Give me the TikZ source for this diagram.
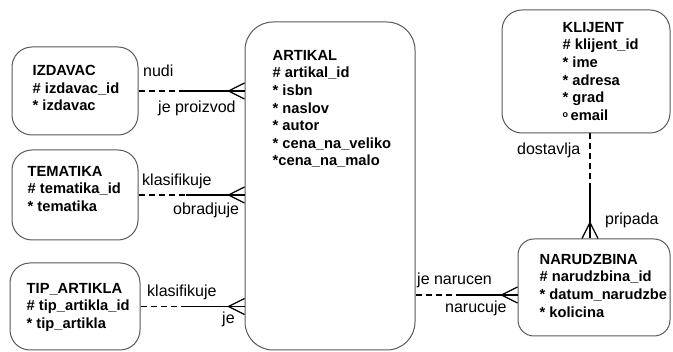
\documentclass[tikz,border=0pt]{standalone}
\usepackage{fontspec}
\setmainfont{Liberation Sans}
\usetikzlibrary{calc,positioning}

\begin{document}
\begin{tikzpicture}[x=1pt,y=-1pt,
  ent/.style={draw=black!65,line width=1pt,rounded corners=20pt,inner sep=0pt},
  attr/.style={align=left,font=\fontsize{14.7}{17.6}\selectfont\bfseries,inner sep=0pt},
  lbl/.style={font=\fontsize{16}{18}\selectfont,inner sep=0pt,anchor=base west},
  opt/.style={line width=1.3pt,dash pattern=on 6pt off 4pt},
  must/.style={line width=1.3pt},
  crow/.pic={\draw[line width=1.3pt] (0,-8) -- (-16,0) -- (0,8);}]
\useasboundingbox (0,0) rectangle (673,352);
% entities
\node[ent,minimum width=126pt,minimum height=88pt] (izdavac) at (75,91) {};
\node[attr,below right=18.5pt and 21pt of izdavac.north west] (izdavac-txt) {IZDAVAC\\\# izdavac\_id\\* izdavac};
\node[ent,minimum width=126pt,minimum height=90pt] (tematika) at (75,195) {};
\node[attr,below right=16.5pt and 16pt of tematika.north west] (tematika-txt) {TEMATIKA\\\# tematika\_id\\* tematika};
\node[ent,minimum width=130pt,minimum height=87pt] (tipartikla) at (75,306.5) {};
\node[attr,below right=20.5pt and 17pt of tipartikla.north west] (tipartikla-txt) {TIP\_ARTIKLA\\\# tip\_artikla\_id\\* tip\_artikla};
\node[ent,rounded corners=28pt,minimum width=170pt,minimum height=328pt] (artikal) at (330,186) {};
\node[attr,below right=28.5pt and 28pt of artikal.north west] (artikal-txt) {ARTIKAL\\\# artikal\_id\\* isbn\\* naslov\\* autor\\* cena\_na\_veliko\\*cena\_na\_malo};
\node[ent,minimum width=168pt,minimum height=123pt] (klijent) at (586,71.5) {};
\node[attr,below right=12.5pt and 61pt of klijent.north west] (klijent-txt) {KLIJENT\\\# klijent\_id\\* ime\\* adresa\\* grad\\{\fontsize{9}{9}\selectfont\raisebox{3pt}{o}}\,email};
\node[ent,rounded corners=16pt,minimum width=152pt,minimum height=97pt] (narudzbina) at (594,287.5) {};
\node[attr,below right=15.5pt and 22pt of narudzbina.north west] (narudzbina-txt) {NARUDZBINA\\\# narudzbina\_id\\* datum\_narudzbe\\* kolicina};
% relationships
\draw[opt] (izdavac.east) -- ++(44,0) coordinate (izdavac-m);
\draw[must] (izdavac-m) -- (izdavac-m -| artikal.west);
\pic at (izdavac-m -| artikal.west) {crow};
\node[lbl] (nudi) at (143,77) {nudi};
\node[lbl] (jeproizvod) at (158,113) {je proizvod};

\draw[opt] (tematika.east) -- ++(47,0) coordinate (tematika-m);
\draw[must] (tematika-m) -- (tematika-m -| artikal.west);
\pic at (tematika-m -| artikal.west) {crow};
\node[lbl] (klasifikuje1) at (142,186) {klasifikuje};
\node[lbl] (obradjuje) at (173,215) {obradjuje};

\draw[opt] (tipartikla.east) -- ++(45,0) coordinate (tipartikla-m);
\draw[must] (tipartikla-m) -- (tipartikla-m -| artikal.west);
\pic at (tipartikla-m -| artikal.west) {crow};
\node[lbl] (klasifikuje2) at (147,297) {klasifikuje};
\node[lbl] (je) at (222,324) {je};

\coordinate (narudzbina-w) at ([yshift=-7.5pt]narudzbina.west);
\draw[opt] (artikal.east |- narudzbina-w) -- ++(45,0) coordinate (narudzbina-m);
\draw[must] (narudzbina-m) -- (narudzbina-w);
\pic at (narudzbina-w) {crow};
\node[lbl] (jenarucen) at (417,285) {je narucen};
\node[lbl] (narucuje) at (445,313) {narucuje};

\coordinate (klijent-s) at ([xshift=4pt]klijent.south);
\draw[opt] (klijent-s) -- ++(0,50) coordinate (klijent-m);
\draw[must] (klijent-m) -- (klijent-m |- narudzbina.north);
\pic[rotate=-90] at (klijent-m |- narudzbina.north) {crow};
\node[lbl] (dostavlja) at (517,155) {dostavlja};
\node[lbl] (pripada) at (605,225) {pripada};
\end{tikzpicture}
\end{document}
